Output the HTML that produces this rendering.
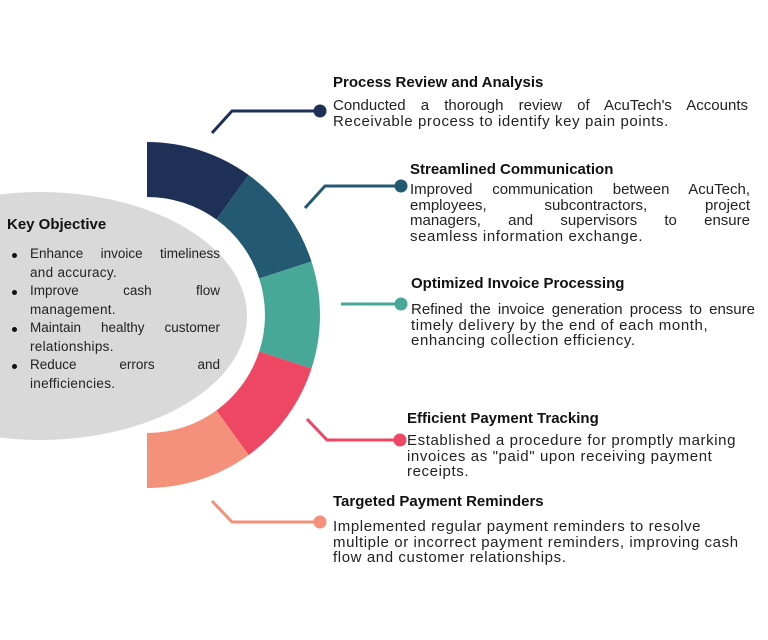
<!DOCTYPE html>
<html><head><meta charset="utf-8"><style>
body{margin:0;width:768px;height:640px;background:#fff;position:relative;overflow:hidden;font-family:"Liberation Sans",sans-serif;color:#111}
.h{position:absolute;font-weight:bold;font-size:15px;line-height:18px;white-space:nowrap}
.t{position:absolute;font-size:15px;line-height:15.5px;color:#222;white-space:nowrap;letter-spacing:0.6px}
.t div{height:15.5px}
.jj{text-align:justify;text-align-last:justify;letter-spacing:0}
.b{position:absolute;font-size:13.5px;line-height:18.5px;color:#222;white-space:nowrap;letter-spacing:0.3px}
.b div{height:18.5px}
.dot{position:absolute;width:5px;height:5px;border-radius:50%;background:#111;left:12px}
</style></head><body>
<svg width="768" height="640" style="position:absolute;left:0;top:0">
<ellipse cx="40" cy="316" rx="207" ry="124" fill="#d9d9d9"/>
<path d="M147,142 A173,173 0 0 1 248.7,175 L216.4,219.5 A118,118 0 0 0 147,197Z" fill="#1e3056"/>
<path d="M248.7,175 A173,173 0 0 1 311.5,261.5 L259.2,278.5 A118,118 0 0 0 216.4,219.5Z" fill="#235a72"/>
<path d="M311.5,261.5 A173,173 0 0 1 311.5,368.5 L259.2,351.5 A118,118 0 0 0 259.2,278.5Z" fill="#47a898"/>
<path d="M311.5,368.5 A173,173 0 0 1 248.7,455 L216.4,410.5 A118,118 0 0 0 259.2,351.5Z" fill="#ee4764"/>
<path d="M248.7,455 A173,173 0 0 1 147,488 L147,433 A118,118 0 0 0 216.4,410.5Z" fill="#f4917a"/>
<g fill="none" stroke-width="3">
<polyline points="212,133 232,111 320,111" stroke="#1e3056"/>
<polyline points="305,208 325,186 401,186" stroke="#235a72"/>
<polyline points="341,304 401,304" stroke="#47a898"/>
<polyline points="307,419 327,440 400,440" stroke="#ee4764"/>
<polyline points="212,501 232,522 320,522" stroke="#f4917a"/>
</g>
<circle cx="320" cy="111" r="6.5" fill="#1e3056"/>
<circle cx="401" cy="186" r="6.5" fill="#235a72"/>
<circle cx="401" cy="304" r="6.5" fill="#47a898"/>
<circle cx="400" cy="440" r="6.5" fill="#ee4764"/>
<circle cx="320" cy="522" r="6.5" fill="#f4917a"/>
</svg>

<div class="h" style="left:7px;top:216px">Key Objective</div>
<div class="dot" style="top:253px"></div>
<div class="dot" style="top:290px"></div>
<div class="dot" style="top:327px"></div>
<div class="dot" style="top:364px"></div>
<div class="b" style="left:30px;top:245px;width:190px">
<div class="jj">Enhance invoice timeliness</div>
<div>and accuracy.</div>
<div class="jj">Improve cash flow</div>
<div>management.</div>
<div class="jj">Maintain healthy customer</div>
<div>relationships.</div>
<div class="jj">Reduce errors and</div>
<div>inefficiencies.</div>
</div>

<div class="h" style="left:333px;top:74px">Process Review and Analysis</div>
<div class="t" style="left:333px;top:98px;width:415px">
<div class="jj">Conducted a thorough review of AcuTech's Accounts</div>
<div>Receivable process to identify key pain points.</div></div>

<div class="h" style="left:410px;top:161px">Streamlined Communication</div>
<div class="t" style="left:410px;top:182px;width:340px">
<div class="jj">Improved communication between AcuTech,</div>
<div class="jj">employees, subcontractors, project</div>
<div class="jj">managers, and supervisors to ensure</div>
<div>seamless information exchange.</div></div>

<div class="h" style="left:411px;top:275px">Optimized Invoice Processing</div>
<div class="t" style="left:411px;top:302px;width:344px">
<div class="jj">Refined the invoice generation process to ensure</div>
<div>timely delivery by the end of each month,</div>
<div>enhancing collection efficiency.</div></div>

<div class="h" style="left:407px;top:410px">Efficient Payment Tracking</div>
<div class="t" style="left:407px;top:433px;width:340px">
<div>Established a procedure for promptly marking</div>
<div>invoices as "paid" upon receiving payment</div>
<div>receipts.</div></div>

<div class="h" style="left:333px;top:493px">Targeted Payment Reminders</div>
<div class="t" style="left:333px;top:519px;width:420px">
<div>Implemented regular payment reminders to resolve</div>
<div>multiple or incorrect payment reminders, improving cash</div>
<div>flow and customer relationships.</div></div>
</body></html>
